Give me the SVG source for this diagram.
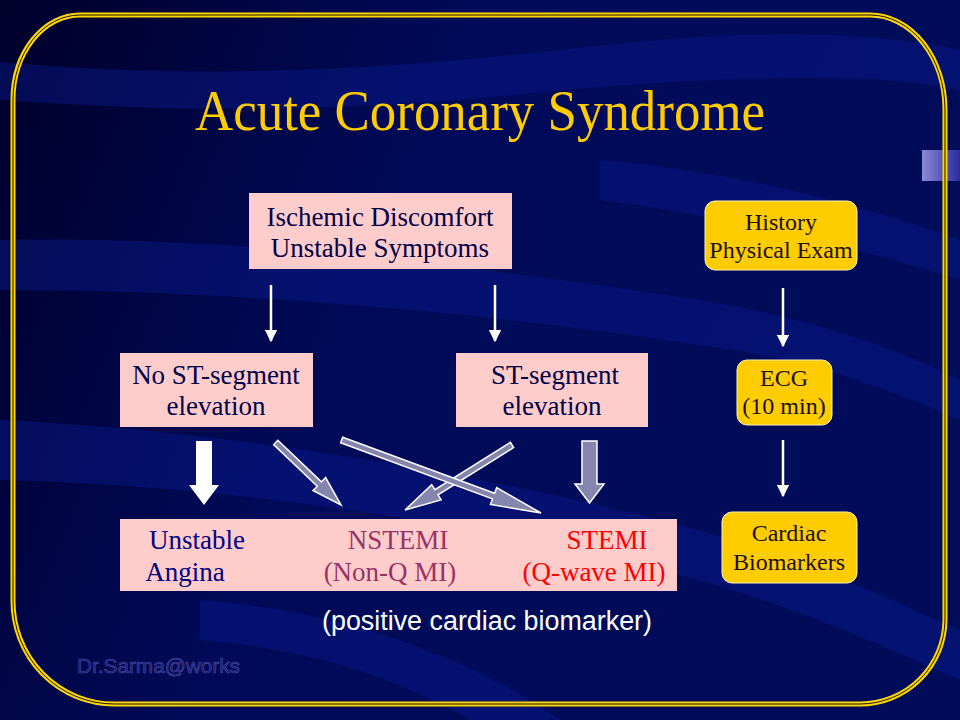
<svg xmlns="http://www.w3.org/2000/svg" width="960" height="720" viewBox="0 0 960 720">
<defs>
<linearGradient id="bg" x1="0" y1="0" x2="1" y2="0.3">
<stop offset="0" stop-color="#00002a"/>
<stop offset="0.45" stop-color="#000a58"/>
<stop offset="1" stop-color="#000c5a"/>
</linearGradient>
<linearGradient id="tab" x1="0" y1="0" x2="1" y2="0">
<stop offset="0" stop-color="#8a8ad8"/>
<stop offset="1" stop-color="#2a2aa0"/>
</linearGradient>
<marker id="ah" viewBox="0 0 10 10" refX="9" refY="5" markerWidth="5" markerHeight="5" orient="auto" markerUnits="strokeWidth">
<path d="M0,0 L10,5 L0,10 Z" fill="#ffffff"/>
</marker>
<style>
.pink{fill:#ffcccc;}
.gold{fill:#ffcc00;stroke:#fff2b0;stroke-width:1;}
.t{font-family:"Liberation Serif","Times New Roman",serif;font-size:27px;fill:#000046;text-anchor:middle;}
.ts{font-family:"Liberation Serif","Times New Roman",serif;font-size:24px;fill:#1a1000;text-anchor:middle;}
.thin{stroke:#ffffff;stroke-width:2.5;fill:none;marker-end:url(#ah);}
.blk{fill:#8585ad;stroke:#ffffff;stroke-width:1.5;stroke-linejoin:miter;}
.wave{fill:#0a1c96;}
</style>
</defs>
<rect width="960" height="720" fill="url(#bg)"/>
<g opacity="0.4">
<path class="wave" d="M0,62 C200,80 380,70 560,50 C720,30 860,28 960,50 L960,90 C860,70 720,78 560,90 C380,110 200,115 0,100 Z"/>
<path class="wave" d="M0,240 C250,235 500,270 700,300 C820,320 900,350 960,380 L960,420 C900,395 820,360 700,345 C500,315 250,290 0,290 Z"/>
<path class="wave" d="M0,420 C220,430 460,470 660,520 C800,555 890,600 960,630 L960,680 C890,650 800,605 660,570 C460,520 220,485 0,480 Z"/>
<path class="wave" d="M600,160 C720,170 850,200 960,240 L960,280 C850,245 720,215 600,200 Z"/>
<path class="wave" d="M200,600 C330,610 460,650 560,720 L470,720 C400,680 320,650 200,640 Z"/>
</g>
<rect x="922" y="150" width="38" height="31" fill="url(#tab)"/>
<g id="frame">
<path d="M80,15 H870 A75,95 0 0 1 945,110 V620 A85,85 0 0 1 860,704 H115 A101,103 0 0 1 13,600 V100 A67,85 0 0 1 80,15 Z" fill="none" stroke="#ffd700" stroke-width="5"/>
<path d="M80,15 H870 A75,95 0 0 1 945,110 V620 A85,85 0 0 1 860,704 H115 A101,103 0 0 1 13,600 V100 A67,85 0 0 1 80,15 Z" fill="none" stroke="#1a1400" stroke-width="1"/>
</g>
<text id="title" x="480" y="130" font-family="'Liberation Serif','Times New Roman',serif" font-size="56" fill="#ffcc00" text-anchor="middle" textLength="570" lengthAdjust="spacingAndGlyphs">Acute Coronary Syndrome</text>
<g id="connectors">
<line class="thin" x1="271" y1="285" x2="271" y2="341"/>
<line class="thin" x1="495" y1="285" x2="495" y2="341"/>
<line class="thin" x1="783" y1="288" x2="783" y2="346"/>
<line class="thin" x1="783" y1="440" x2="783" y2="496"/>
<path d="M196,441 H212 V485 H219 L204,505 L189,485 H196 Z" fill="#ffffff"/>
<path class="blk" d="M582,441 H597 V484 H604 L589.5,503 L575,484 H582 Z"/>
<path class="blk" d="M277.8,440.3 L321.4,481.9 L325.6,477.6 L341,505 L313,490.5 L317.3,486.2 L273.7,444.6 Z"/>
<path class="blk" d="M510.4,442.4 L434.9,489.7 L431.7,484.6 L405,510 L441.1,499.9 L438.0,494.8 L513.6,447.6 Z"/>
<path class="blk" d="M342.7,437.2 L494.6,493.3 L496.7,487.7 L541,513 L490.5,504.5 L492.5,498.9 L340.6,442.8 Z"/>
</g>
<g id="n-ischemic">
<rect class="pink" x="249" y="193" width="263" height="76"/>
<text class="t" x="380" y="226">Ischemic Discomfort</text>
<text class="t" x="380" y="257">Unstable Symptoms</text>
</g>
<g id="n-nost">
<rect class="pink" x="120" y="353" width="193" height="74"/>
<text class="t" x="216" y="384">No ST-segment</text>
<text class="t" x="216" y="415">elevation</text>
</g>
<g id="n-st">
<rect class="pink" x="456" y="353" width="192" height="74"/>
<text class="t" x="555" y="384">ST-segment</text>
<text class="t" x="552" y="415">elevation</text>
</g>
<g id="n-outcomes">
<rect class="pink" x="120" y="519" width="557" height="72"/>
<text class="t" x="197" y="549" style="fill:#000080">Unstable</text>
<text class="t" x="185" y="581" style="fill:#000080">Angina</text>
<text class="t" x="398" y="549" style="fill:#993366">NSTEMI</text>
<text class="t" x="390" y="581" style="fill:#993366">(Non-Q MI)</text>
<text class="t" x="607" y="549" style="fill:#ff0000">STEMI</text>
<text class="t" x="594" y="581" style="fill:#ff0000">(Q-wave MI)</text>
</g>
<text id="note" x="487" y="630" font-family="'Liberation Sans',Arial,sans-serif" font-size="27" fill="#ffffff" text-anchor="middle" textLength="330" lengthAdjust="spacingAndGlyphs">(positive cardiac biomarker)</text>
<g id="n-history">
<rect class="gold" x="705" y="201" width="152" height="69" rx="10"/>
<text class="ts" x="781" y="230">History</text>
<text class="ts" x="781" y="258">Physical Exam</text>
</g>
<g id="n-ecg">
<rect class="gold" x="737" y="360" width="95" height="65" rx="10"/>
<text class="ts" x="784" y="386">ECG</text>
<text class="ts" x="784" y="414">(10 min)</text>
</g>
<g id="n-biomarkers">
<rect class="gold" x="722" y="512" width="135" height="71" rx="10"/>
<text class="ts" x="789" y="541">Cardiac</text>
<text class="ts" x="789" y="570">Biomarkers</text>
</g>
<text id="watermark" x="77" y="673" font-family="'Liberation Sans',Arial,sans-serif" font-size="21" fill="#1c1c70" stroke="#4a4aa0" stroke-width="0.6" textLength="163" lengthAdjust="spacingAndGlyphs">Dr.Sarma@works</text>
</svg>
